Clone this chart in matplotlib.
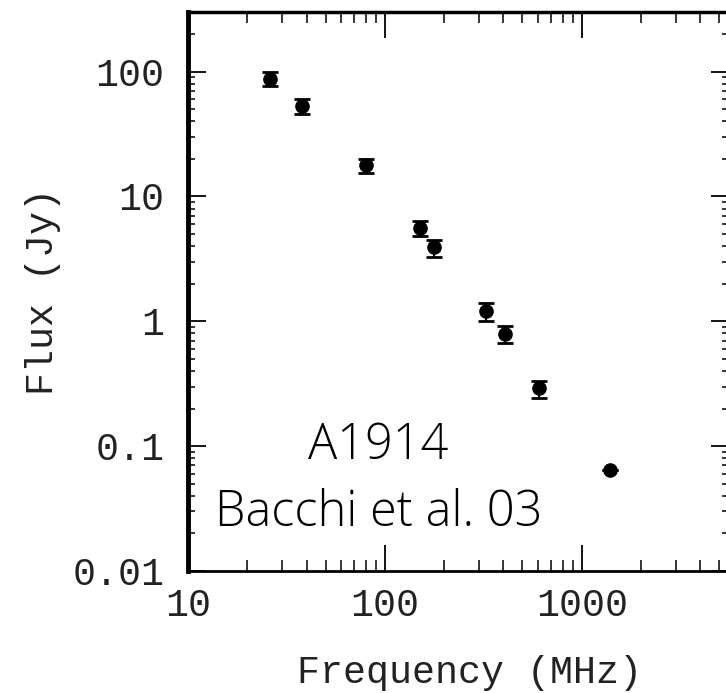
import numpy as np
import matplotlib
matplotlib.use("Agg")
import matplotlib.pyplot as plt
from matplotlib.ticker import FixedLocator, LogLocator, NullFormatter

# spectrum of A1914
freq = [26, 38, 80, 151, 178, 327, 408, 610, 1400]
flux = [88, 53, 17.7, 5.6, 3.9, 1.2, 0.79, 0.29, 0.064]
flux_err = [12, 7, 2.3, 0.8, 0.6, 0.19, 0.12, 0.045, 0.0]

xticks = [10, 100, 1000]
xticklabels = ["10", "100", "1000"]
yticks = [0.01, 0.1, 1, 10, 100]
yticklabels = ["0.01", "0.1", "1", "10", "100"]

mono = "Liberation Mono"
fs = 27.5

fig = plt.figure(figsize=(7.26, 6.93), dpi=100)
ax = fig.add_axes([188/726, 1 - 571/693, 541/726, 559/693])

ax.errorbar(freq, flux, yerr=flux_err, fmt="o", color="black", ms=9.5,
            capsize=5.5, capthick=2, elinewidth=1.5)

ax.set_xscale("log")
ax.set_yscale("log")
ax.set_xlim(10, 5600)
ax.set_ylim(0.01, 300)

ax.xaxis.set_major_locator(FixedLocator(xticks))
ax.set_xticklabels(xticklabels)
ax.yaxis.set_major_locator(FixedLocator(yticks))
ax.set_yticklabels(yticklabels)
ax.xaxis.set_minor_locator(LogLocator(base=10, subs=np.arange(2, 10), numticks=20))
ax.yaxis.set_minor_locator(LogLocator(base=10, subs=np.arange(2, 10), numticks=20))
ax.xaxis.set_minor_formatter(NullFormatter())
ax.yaxis.set_minor_formatter(NullFormatter())

ax.tick_params(axis="both", which="both", direction="in", top=True, right=True)
ax.tick_params(axis="x", which="major", length=19, width=1.3, pad=12)
ax.tick_params(axis="x", which="minor", length=8, width=1.1)
ax.tick_params(axis="y", which="major", length=13, width=1.3, pad=17)
ax.tick_params(axis="y", which="minor", length=5, width=1.1)

for lab in ax.get_xticklabels() + ax.get_yticklabels():
    lab.set_fontfamily(mono)
    lab.set_fontsize(fs)
    lab.set_color("#222222")

ax.spines["left"].set_linewidth(3.5)
ax.spines["top"].set_linewidth(2.5)
ax.spines["bottom"].set_linewidth(2)
ax.spines["right"].set_linewidth(2)

ax.set_xlabel("Frequency (MHz)", fontfamily=mono, fontsize=fs, color="#222222")
ax.xaxis.set_label_coords(0.521, -0.15)
ax.set_ylabel("Flux (Jy)", fontfamily=mono, fontsize=fs, labelpad=8,
              color="#222222")

ax.text(92, 0.1, "A1914", fontfamily="Open Sans", fontweight="light",
        fontsize=35, ha="center", va="center")
ax.text(93, 0.029, "Bacchi et al. 03", fontfamily="Open Sans", fontweight="light",
        fontsize=35, ha="center", va="center")

fig.savefig("out.png", dpi=100)
